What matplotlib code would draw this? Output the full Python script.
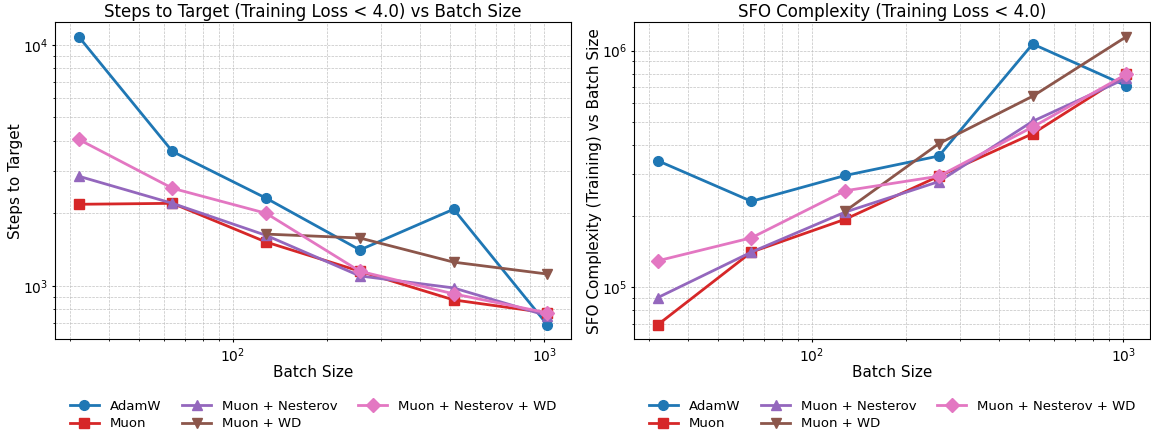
import matplotlib
matplotlib.use("Agg")
import matplotlib.pyplot as plt
from matplotlib.ticker import NullFormatter

BATCH_SIZES = [32, 64, 128, 256, 512, 1024]
WD_BATCH_SIZES = [128, 256, 512, 1024]

# steps to reach training loss < 4.0
STEPS_ADAMW = [10800, 3610, 2310, 1410, 2080, 690]
STEPS_MUON = [2180, 2200, 1520, 1150, 875, 773]
STEPS_MUON_NESTEROV = [2850, 2200, 1620, 1100, 981, 752]
STEPS_MUON_WD = [1640, 1580, 1255, 1120]
STEPS_MUON_NESTEROV_WD = [4050, 2540, 2000, 1150, 927, 773]

# SFO complexity (training)
SFO_ADAMW = [343000, 231000, 297000, 359000, 1067000, 710000]
SFO_MUON = [69500, 141000, 194000, 295000, 446000, 795000]
SFO_MUON_NESTEROV = [90500, 141000, 208000, 280000, 503000, 765000]
SFO_MUON_WD = [210000, 405000, 642000, 1146000]
SFO_MUON_NESTEROV_WD = [129500, 162000, 256000, 295000, 476000, 795000]

SERIES = [
    ("AdamW", "#1f77b4", "o"),
    ("Muon", "#d62728", "s"),
    ("Muon + Nesterov", "#9467bd", "^"),
    ("Muon + WD", "#8c564b", "v"),
    ("Muon + Nesterov + WD", "#e377c2", "D"),
]


def draw_panel(ax, data, title, ylabel):
    for (label, color, marker), (xs, ys) in zip(SERIES, data):
        ax.plot(xs, ys, color=color, marker=marker, markersize=7, linewidth=2, label=label)
    ax.set_xscale("log")
    ax.set_yscale("log")
    ax.yaxis.set_minor_formatter(NullFormatter())
    ax.tick_params(which="major", length=2.5, pad=2.5)
    ax.tick_params(which="minor", length=1.5)
    ax.grid(True, which="both", linestyle="--", color="#bbbbbb", linewidth=0.5, alpha=0.9)
    ax.set_title(title, fontsize=12, pad=4)
    ax.set_xlabel("Batch Size", fontsize=11, labelpad=0)
    ax.set_ylabel(ylabel, fontsize=11, labelpad=0)
    ax.legend(loc="upper center", bbox_to_anchor=(0.5, -0.153), ncol=3, frameon=False,
              fontsize=9.5, handlelength=2.2, columnspacing=1.6, labelspacing=0.35)


fig, (ax1, ax2) = plt.subplots(1, 2, figsize=(11.51, 4.36), dpi=100)
fig.subplots_adjust(left=0.048, right=0.999, top=0.949, bottom=0.222, wspace=0.123)

draw_panel(
    ax1,
    [
        (BATCH_SIZES, STEPS_ADAMW),
        (BATCH_SIZES, STEPS_MUON),
        (BATCH_SIZES, STEPS_MUON_NESTEROV),
        (WD_BATCH_SIZES, STEPS_MUON_WD),
        (BATCH_SIZES, STEPS_MUON_NESTEROV_WD),
    ],
    "Steps to Target (Training Loss < 4.0) vs Batch Size",
    "Steps to Target",
)
draw_panel(
    ax2,
    [
        (BATCH_SIZES, SFO_ADAMW),
        (BATCH_SIZES, SFO_MUON),
        (BATCH_SIZES, SFO_MUON_NESTEROV),
        (WD_BATCH_SIZES, SFO_MUON_WD),
        (BATCH_SIZES, SFO_MUON_NESTEROV_WD),
    ],
    "SFO Complexity (Training Loss < 4.0)",
    "SFO Complexity (Training) vs Batch Size",
)

fig.savefig("out.png", dpi=100)
